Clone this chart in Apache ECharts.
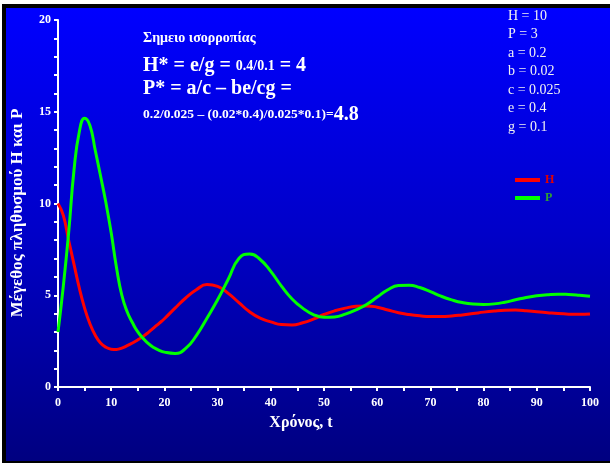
<!DOCTYPE html>
<html>
<head>
<meta charset="utf-8">
<script src="https://cdn.jsdelivr.net/npm/echarts@6/dist/echarts.min.js"></script>
<style>
  html, body { margin: 0; padding: 0; background: #ffffff; overflow: hidden; width: 610px; height: 463px; }
  #frame {
    position: absolute; left: 2px; top: 4px; width: 608px; height: 459px;
    box-sizing: border-box;
    border-left: 4px solid #000; border-top: 4px solid #000; border-bottom: 2px solid #000;
    border-right: 0;
    background: linear-gradient(to bottom, #0000ff 0%, #0000c8 50%, #000080 100%);
  }
  #edge {
    position: absolute; left: 596px; top: 8px; width: 14px; height: 453px;
    background: linear-gradient(to bottom, #0000ff 0%, #0000c8 50%, #000080 100%);
  }
  #chart { position: absolute; left: 0; top: 0; width: 610px; height: 463px; }
</style>
</head>
<body>
<div id="frame"></div>
<div id="edge"></div>
<div id="chart"></div>
<script>
// Time points (t)
const tValues = [0,1,2,3,4,5,6,7,8,9,10,11,12,13,14,15,16,17,18,19,20,22,24,26,28,30,32,34,36,38,40,42,44,46,48,50,52,54,56,58,60,62,64,66,68,70,72,74,76,78,80,82,84,86,88,90,92,94,96,98,100];
// Prey H
const hValues = [10.0,9.35,8.0,6.7,5.4,4.3,3.45,2.82,2.4,2.17,2.06,2.05,2.12,2.25,2.4,2.57,2.76,2.98,3.22,3.47,3.72,4.3,4.85,5.3,5.58,5.48,5.1,4.6,4.1,3.75,3.55,3.4,3.38,3.5,3.7,3.95,4.15,4.3,4.4,4.42,4.35,4.2,4.05,3.95,3.88,3.84,3.84,3.87,3.93,4.0,4.08,4.14,4.18,4.19,4.16,4.1,4.05,4.0,3.97,3.96,3.98];
// Predator P
const pValues = [3.0,5.5,8.4,11.8,13.9,14.65,14.25,12.9,11.5,10.05,8.4,6.5,5.0,4.1,3.5,3.0,2.65,2.36,2.15,2.0,1.9,1.83,2.1,2.8,3.75,4.75,5.87,7.0,7.25,6.95,6.3,5.5,4.8,4.3,3.95,3.8,3.82,3.97,4.2,4.5,4.9,5.3,5.53,5.55,5.42,5.2,4.95,4.75,4.6,4.52,4.5,4.53,4.62,4.75,4.88,4.97,5.03,5.06,5.04,5.0,4.95];

const seriesNames = ['H', 'P'];
const yAxisTitle = 'Μέγεθος πληθυσμού H και P';
const xAxisTitle = 'Χρόνος, t';
const paramLines = ['H = 10', 'P = 3', 'a = 0.2', 'b = 0.02', 'c = 0.025', 'e = 0.4', 'g = 0.1'];
const noteTitle = 'Σημειο ισορροπίας';

const serif = '"Liberation Serif", "DejaVu Serif", serif';
const shadow = { textShadowColor: 'rgba(0,0,0,0.55)', textShadowOffsetX: 1, textShadowOffsetY: 1, textShadowBlur: 0 };

const chart = echarts.init(document.getElementById('chart'), null, { renderer: 'canvas' });

const graphics = [];
graphics.push({
  type: 'text', left: 143, top: 31, z: 10,
  style: Object.assign({ text: noteTitle, fill: '#fff', font: 'bold 14px ' + serif }, shadow)
});
graphics.push({
  type: 'text', x: 143, y: 66, z: 10,
  style: Object.assign({
    text: '{a|H* = e/g = }{b|0.4/0.1}{a| = 4}', verticalAlign: 'middle', fill: '#fff',
    rich: {
      a: { fontFamily: serif, fontWeight: 'bold', fontSize: 20, fill: '#fff' },
      b: { fontFamily: serif, fontWeight: 'bold', fontSize: 14, fill: '#fff' }
    }
  }, shadow)
});
graphics.push({
  type: 'text', x: 143, y: 89, z: 10,
  style: Object.assign({ text: 'P* = a/c – be/cg =', verticalAlign: 'middle', fill: '#fff', font: 'bold 20px ' + serif }, shadow)
});
graphics.push({
  type: 'text', x: 143, y: 115, z: 10,
  style: Object.assign({
    text: '{b|0.2/0.025 – (0.02*0.4)/0.025*0.1)=}{a|4.8}', verticalAlign: 'middle', fill: '#fff',
    rich: {
      a: { fontFamily: serif, fontWeight: 'bold', fontSize: 20, fill: '#fff' },
      b: { fontFamily: serif, fontWeight: 'bold', fontSize: 13.5, fill: '#fff' }
    }
  }, shadow)
});
paramLines.forEach(function (s, i) {
  graphics.push({
    type: 'text', x: 508, y: 16 + i * 18.5, z: 10,
    style: Object.assign({ text: s, verticalAlign: 'middle', fill: '#f2f2f2', font: '14px ' + serif }, shadow)
  });
});
graphics.push({
  type: 'text', x: 18, y: 213, rotation: Math.PI / 2, z: 10,
  style: Object.assign({ text: yAxisTitle, align: 'center', verticalAlign: 'middle', fill: '#fff', font: 'bold 17px ' + serif }, shadow)
});
graphics.push({
  type: 'text', x: 301, y: 423, z: 10,
  style: Object.assign({ text: xAxisTitle, align: 'center', verticalAlign: 'middle', fill: '#fff', font: 'bold 16px ' + serif }, shadow)
});

const axisLabelStyle = { color: '#fff', fontFamily: serif, fontWeight: 'bold', fontSize: 12 };

chart.setOption({
  backgroundColor: 'transparent',
  animation: false,
  grid: { left: 58, right: 20, top: 20, bottom: 76, containLabel: false },
  legend: {
    orient: 'vertical', left: 515, top: 174, padding: 0, icon: 'rect', itemWidth: 25, itemHeight: 4, itemGap: 6,
    textStyle: { fontFamily: serif, fontWeight: 'bold', fontSize: 12, lineHeight: 12 },
    data: [
      { name: seriesNames[0], textStyle: { color: '#e00000' } },
      { name: seriesNames[1], textStyle: { color: '#30a030' } }
    ]
  },
  xAxis: {
    type: 'value', min: 0, max: 100, interval: 5,
    axisLine: { show: true, lineStyle: { color: '#fff', width: 2 } },
    axisTick: { show: true, length: 4, lineStyle: { color: '#fff', width: 2 } },
    splitLine: { show: false },
    axisLabel: Object.assign({ margin: 10, formatter: function (v) { return v % 10 === 0 ? String(v) : ''; } }, axisLabelStyle)
  },
  yAxis: {
    type: 'value', min: 0, max: 20, interval: 1,
    axisLine: { show: true, lineStyle: { color: '#fff', width: 2 } },
    axisTick: { show: true, length: 4, lineStyle: { color: '#fff', width: 2 } },
    splitLine: { show: false },
    axisLabel: Object.assign({ margin: 7, formatter: function (v) { return v % 5 === 0 ? String(v) : ''; } }, axisLabelStyle)
  },
  graphic: graphics,
  series: [
    {
      name: seriesNames[0], type: 'line', smooth: 0.5, showSymbol: false, symbol: 'none',
      lineStyle: { color: '#ff0000', width: 3 }, itemStyle: { color: '#ff0000' },
      data: tValues.map(function (t, i) { return [t, hValues[i]]; })
    },
    {
      name: seriesNames[1], type: 'line', smooth: 0.5, showSymbol: false, symbol: 'none',
      lineStyle: { color: '#00ff00', width: 3 }, itemStyle: { color: '#00ff00' },
      data: tValues.map(function (t, i) { return [t, pValues[i]]; })
    }
  ]
});
</script>
</body>
</html>
